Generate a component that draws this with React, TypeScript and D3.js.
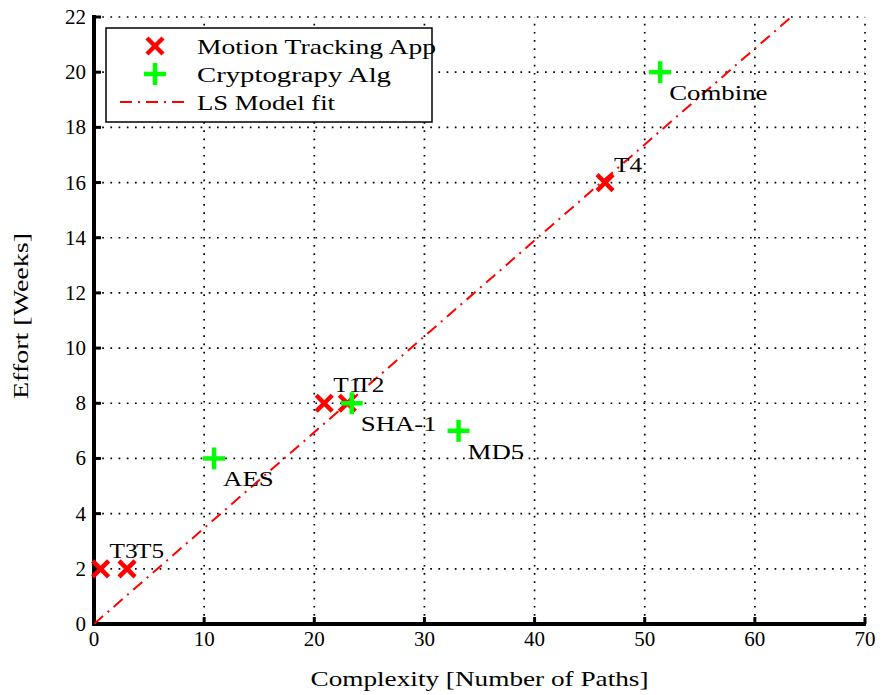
import React from "react";
import * as d3 from "d3";

const motionNames = ["T3", "T5", "T1", "T2", "T4"];
const motionX = [0.6, 3.0, 20.9, 23.0, 46.4];
const motionY = [2, 2, 8, 8, 16];

const cryptoNames = ["AES", "SHA-1", "MD5", "Combine"];
const cryptoX = [10.9, 23.4, 33.1, 51.4];
const cryptoY = [6, 8, 7, 20];

const fitX = [0, 63.3];
const fitY = [0, 22];

const xTicks = [0, 10, 20, 30, 40, 50, 60, 70];
const yTicks = [0, 2, 4, 6, 8, 10, 12, 14, 16, 18, 20, 22];

const legendLabels = ["Motion Tracking App", "Cryptograpy Alg", "LS Model fit"];

const W = 882;
const H = 695;
const L = 94, R = 865, T = 17, B = 624;
const FONT = "Liberation Serif, DejaVu Serif, serif";
const RED = "#ff0000";
const GREEN = "#00ff00";

export default function App() {
  const x = d3.scaleLinear().domain([0, 70]).range([L, R]);
  const y = d3.scaleLinear().domain([0, 22]).range([B, T]);
  const line = d3.line<number>().x((_, i) => x(fitX[i])).y((_, i) => y(fitY[i]));

  const cross = (cx: number, cy: number, s: number, key: string) => (
    <g key={key} stroke={RED} strokeWidth={4.5} strokeLinecap="butt">
      <line x1={cx - s} y1={cy - s} x2={cx + s} y2={cy + s} />
      <line x1={cx - s} y1={cy + s} x2={cx + s} y2={cy - s} />
    </g>
  );
  const plus = (cx: number, cy: number, s: number, key: string) => (
    <g key={key} stroke={GREEN} strokeWidth={4.5}>
      <line x1={cx - s} y1={cy} x2={cx + s} y2={cy} />
      <line x1={cx} y1={cy - s} x2={cx} y2={cy + s} />
    </g>
  );

  return (
    <svg width={W} height={H} style={{ position: "absolute", left: 0, top: 0, background: "#fff", fontFamily: FONT }}>
      <rect x={0} y={0} width={W} height={H} fill="#fff" />
      <defs>
        <clipPath id="plotclip">
          <rect x={L} y={T} width={R - L} height={B - T} />
        </clipPath>
      </defs>
      {/* grid */}
      <g stroke="#000" strokeWidth={1.7} strokeDasharray="1.7,6.5">
        {xTicks.slice(1).map((t) => (
          <line key={"gx" + t} x1={x(t)} x2={x(t)} y1={B} y2={T} />
        ))}
        {yTicks.slice(1).map((t) => (
          <line key={"gy" + t} x1={L} x2={R} y1={y(t)} y2={y(t)} />
        ))}
      </g>
      {/* ticks */}
      <g stroke="#000" strokeWidth={3}>
        {xTicks.map((t) => (
          <line key={"tx" + t} x1={x(t)} x2={x(t)} y1={B} y2={B - 7} />
        ))}
        {yTicks.map((t) => (
          <line key={"ty" + t} x1={L} x2={L + 7} y1={y(t)} y2={y(t)} />
        ))}
      </g>
      {/* axes */}
      <g stroke="#000" strokeWidth={4} fill="none">
        <line x1={L} x2={L} y1={T - 2} y2={B + 2} />
        <line x1={L - 2} x2={R + 1} y1={B} y2={B} />
      </g>
      {/* tick labels */}
      <g fontSize={21} fill="#000" style={{ fontFamily: FONT }}>
        {xTicks.map((t) => (
          <text key={"lx" + t} x={x(t)} y={B + 22} textAnchor="middle">{t}</text>
        ))}
        {yTicks.map((t) => (
          <text key={"ly" + t} x={L - 8} y={y(t) + 7} textAnchor="end">{t}</text>
        ))}
      </g>
      {/* axis labels */}
      <text x={(L + R) / 2} y={686} fontSize={22} textAnchor="middle" textLength={338} lengthAdjust="spacingAndGlyphs" style={{ fontFamily: FONT }}>Complexity [Number of Paths]</text>
      <text transform={`translate(28,316) rotate(-90)`} fontSize={22} textAnchor="middle" textLength={166} lengthAdjust="spacingAndGlyphs" style={{ fontFamily: FONT }}>Effort [Weeks]</text>

      {/* fit line */}
      <path d={line(fitX) || ""} fill="none" stroke={RED} strokeWidth={2} strokeDasharray="12,6,2,6" clipPath="url(#plotclip)" />

      {/* markers */}
      {motionX.map((v, i) => cross(x(v), y(motionY[i]), 8, "m" + i))}
      {cryptoX.map((v, i) => plus(x(v), y(cryptoY[i]), 11, "c" + i))}

      {/* point labels */}
      <g fontSize={22} fill="#000" style={{ fontFamily: FONT }}>
        {motionX.map((v, i) => (
          <text key={"ml" + i} transform={`translate(${x(v) + 9},${y(motionY[i]) - 11}) scale(1.15,1)`}>{motionNames[i]}</text>
        ))}
        {cryptoX.map((v, i) => (
          <text key={"cl" + i} transform={`translate(${x(v) + 9},${y(cryptoY[i]) + 28}) scale(1.22,1)`}>{cryptoNames[i]}</text>
        ))}
      </g>

      {/* legend */}
      <g>
        <rect x={106} y={28} width={326} height={94} fill="#fff" stroke="#000" strokeWidth={1.5} />
        {cross(155, 46, 8, "lg0")}
        {plus(155, 74, 11, "lg1")}
        <line x1={120} x2={190} y1={102} y2={102} stroke={RED} strokeWidth={2} strokeDasharray="12,6,2,6" />
        <g fontSize={22} fill="#000" style={{ fontFamily: FONT }}>
          <text x={197} y={54} textLength={239} lengthAdjust="spacingAndGlyphs">{legendLabels[0]}</text>
          <text x={197} y={82} textLength={194} lengthAdjust="spacingAndGlyphs">{legendLabels[1]}</text>
          <text x={197} y={110} textLength={138} lengthAdjust="spacingAndGlyphs">{legendLabels[2]}</text>
        </g>
      </g>
    </svg>
  );
}
